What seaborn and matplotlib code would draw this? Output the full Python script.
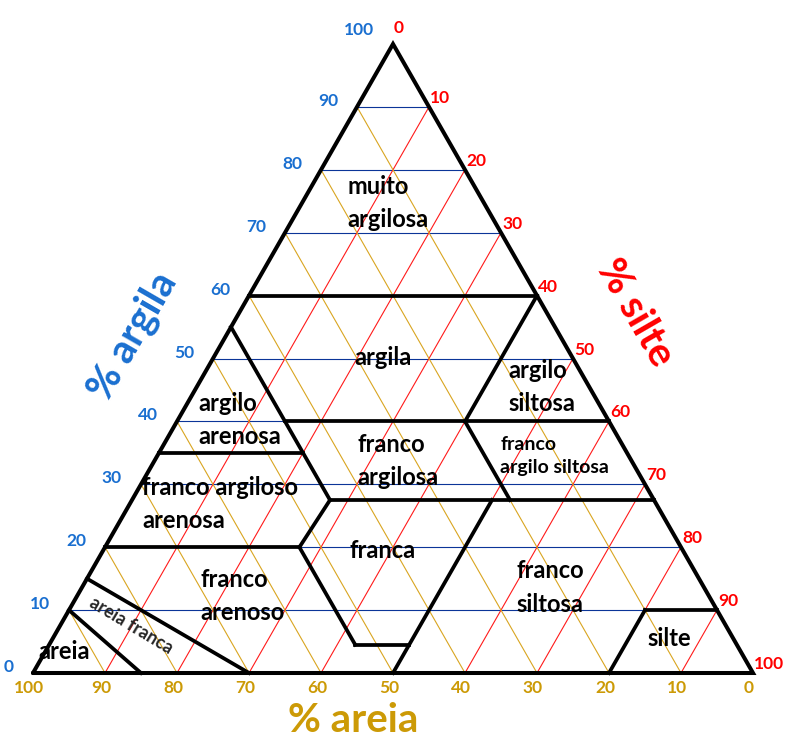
import numpy as np
import pandas as pd
import seaborn as sns
import matplotlib.pyplot as plt

# Tick values on the three sides (percent)
clay_ticks = [0, 10, 20, 30, 40, 50, 60, 70, 80, 90, 100]
silt_ticks = [0, 10, 20, 30, 40, 50, 60, 70, 80, 90, 100]
sand_ticks = [100, 90, 80, 70, 60, 50, 40, 30, 20, 10, 0]
grid_levels = [10, 20, 30, 40, 50, 60, 70, 80, 90]

# Class boundaries as (clay, sand) pairs
boundaries = [
    [(60, 40), (60, 0)],
    [(60, 0), (40, 20)],
    [(40, 45), (40, 0)],
    [(55, 45), (27.5, 45)],
    [(35, 65), (35, 45)],
    [(27.5, 45), (20, 53)],
    [(20, 80), (20, 53)],
    [(20, 53), (4.5, 53)],
    [(4.5, 53), (4.5, 45.5)],
    [(27.5, 22.5), (0, 50)],
    [(27.5, 45), (27.5, 0)],
    [(40, 20), (27.5, 20)],
    [(0, 20), (10, 10)],
    [(10, 10), (10, 0)],
    [(15, 85), (0, 70)],
    [(10, 90), (0, 85)],
]

# Class names and where their text block starts (plot x, y)
class_names = ["muito\nargilosa", "argila", "argilo\nsiltosa", "argilo\narenosa",
               "franco\nargilosa", "franco argiloso\narenosa", "franca",
               "franco\narenoso", "franco\nsiltosa", "silte", "areia"]
class_pos = [(43.7, 64.7), (44.6, 43.5), (66.0, 39.4), (23.0, 34.8),
             (45.0, 29.2), (15.2, 23.3), (44.0, 16.8),
             (23.2, 10.6), (67.2, 11.8), (85.4, 4.8), (0.8, 2.9)]

S3 = np.sqrt(3) / 2


def xy(clay, sand):
    silt = 100 - clay - sand
    return silt + clay / 2, clay * S3


# grid lines table
rows = []
for k in grid_levels:
    # constant clay
    for p in [xy(k, 100 - k), xy(k, 0)]:
        rows.append((p[0], p[1], f"c{k}", "argila"))
    # constant silt
    for p in [xy(0, 100 - k), xy(100 - k, 0)]:
        rows.append((p[0], p[1], f"s{k}", "silte"))
    # constant sand
    for p in [xy(0, k), xy(100 - k, k)]:
        rows.append((p[0], p[1], f"a{k}", "areia"))
grid = pd.DataFrame(rows, columns=["x", "y", "seg", "family"])

brows = []
for i, seg in enumerate(boundaries):
    for c, s in seg:
        px, py = xy(c, s)
        brows.append((px, py, i))
bdf = pd.DataFrame(brows, columns=["x", "y", "seg"])

sns.set_theme(style="white")
plt.rcParams["font.family"] = ["Lato", "DejaVu Sans"]

fig = plt.figure(figsize=(7.91, 7.45), dpi=100)
ax = fig.add_axes([0, 0, 1, 1])

sns.lineplot(data=grid, x="x", y="y", units="seg", hue="family", estimator=None,
             sort=False, legend=False, linewidth=0.8, ax=ax,
             palette={"argila": "#0b3598", "silte": "#ff1a1a", "areia": "#d9a520"})
sns.lineplot(data=bdf, x="x", y="y", units="seg", estimator=None, sort=False,
             color="black", linewidth=2.7, ax=ax, solid_capstyle="projecting")

tri = np.array([xy(0, 100), xy(0, 0), xy(100, 0), xy(0, 100)])
ax.plot(tri[:, 0], tri[:, 1], color="black", lw=2.9, solid_joinstyle="miter")

# side tick labels
for c in clay_ticks:
    px, py = xy(c, 100 - c)
    ax.annotate(str(c), (px, py), xytext=(-19, 14 if c == 100 else 6),
                textcoords="offset pixels", ha="right", va="center",
                color="#1a6fd0", fontsize=12.5, fontweight="bold")
for s in silt_ticks:
    px, py = xy(100 - s, 0)
    ax.annotate(str(s), (px, py), xytext=(1, 16 if s == 0 else 9),
                textcoords="offset pixels", ha="left", va="center",
                color="#ff0000", fontsize=12.5, fontweight="bold")
for a in sand_ticks:
    px, py = xy(0, a)
    ax.annotate(str(a), (px, py), xytext=(-4, -15),
                textcoords="offset pixels", ha="center", va="center",
                color="#cc9a06", fontsize=12.5, fontweight="bold")

# class names
for name, (px, py) in zip(class_names, class_pos):
    ax.text(px, py, name, ha="left", va="center", fontsize=17,
            fontweight="bold", color="black", linespacing=1.55)
ax.text(64.9, 29.9, "franco\nargilo siltosa", ha="left", va="center", fontsize=14,
        fontweight="bold", color="black", linespacing=1.45)
ax.text(13.6, 6.6, "areia franca", ha="center", va="center", fontsize=13,
        fontweight="bold", rotation=-31, rotation_mode="anchor")

# axis titles
ax.text(13.8, 46.4, "% argila", color="#1a6fd0", fontsize=29, fontweight="bold",
        rotation=60, ha="center", va="center", rotation_mode="anchor")
ax.text(83.7, 49.6, "% silte", color="#ff0000", fontsize=29, fontweight="bold",
        rotation=-60, ha="center", va="center", rotation_mode="anchor")
ax.text(44.5, -6.5, "% areia", color="#cc9a06", fontsize=29, fontweight="bold",
        ha="center", va="center")

ax.set_xlim(-33 / 7.2, (791 - 33) / 7.2)
ax.set_ylim(-72 / 7.263, 673 / 7.263)
ax.axis("off")

fig.savefig("out.png", dpi=100)
